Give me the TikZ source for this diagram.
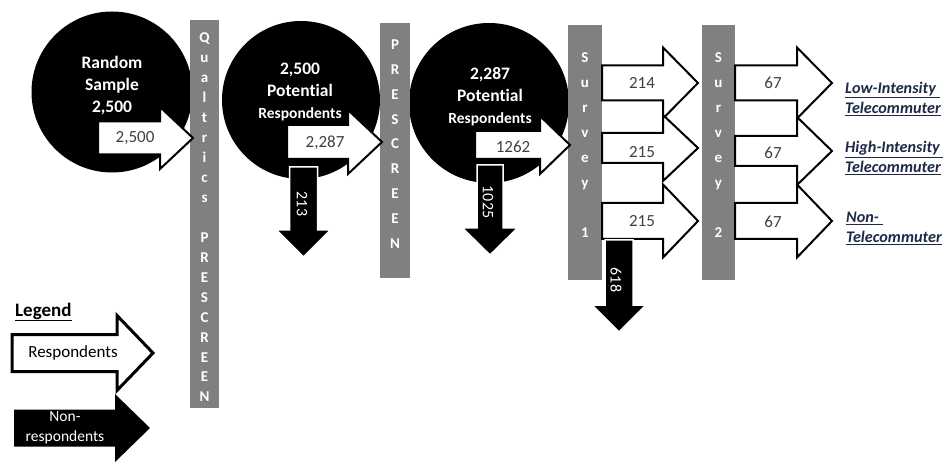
\documentclass[tikz,border=0pt]{standalone}
\usepackage{fontspec}
\setmainfont{Carlito}[Ligatures={NoCommon}]
\definecolor{bargray}{HTML}{808080}
\definecolor{numgray}{HTML}{404040}
\definecolor{lblblue}{HTML}{1C2A48}
% right arrow: style, x0, xhead, xtip, ycentre, half body, half head
\newcommand\RArr[7]{\draw[#1] (#2,#5-#6) -- (#3,#5-#6) -- (#3,#5-#7) -- (#4,#5) -- (#3,#5+#7) -- (#3,#5+#6) -- (#2,#5+#6) -- cycle;}
% down arrow: style, xc, y0, yhead, ytip, half body, half head
\newcommand\DArr[7]{\draw[#1] (#2-#6,#3) -- (#2+#6,#3) -- (#2+#6,#4) -- (#2+#7,#4) -- (#2,#5) -- (#2-#7,#4) -- (#2-#6,#4) -- cycle;}
\tikzset{
  disc/.style={circle, fill=black, inner sep=0pt},
  bar/.style={fill=bargray, draw=none},
  resp/.style={fill=white, draw=black, line width=2pt, line join=miter},
  legresp/.style={fill=white, draw=black, line width=3pt, line join=miter},
  nonresp/.style={fill=black, draw=white, line width=1.5pt, line join=miter},
  legnon/.style={fill=black, draw=none},
  circtxt/.style={text=white, font=\bfseries\fontsize{17.5}{22}\selectfont, align=center, inner sep=0pt},
  num/.style={text=numgray, font=\fontsize{17}{18}\selectfont, inner sep=0pt},
  downlbl/.style={text=white, font=\fontsize{16}{18}\selectfont, rotate=-90, inner sep=0pt},
  barltr/.style={text=white, font=\bfseries\fontsize{15}{16}\selectfont, anchor=base, inner sep=0pt},
  outcome/.style={text=lblblue, font=\bfseries\itshape\fontsize{16.2}{20}\selectfont, align=left, anchor=west, inner sep=0pt},
}
\begin{document}
\begin{tikzpicture}[x=1pt, y=-1pt]
\useasboundingbox (0,0) rectangle (948,465);
% circles
\node[disc, minimum size=161pt] (c1) at (112,92) {};
\node[disc, minimum size=158pt] (c2) at (301,100) {};
\node[disc, minimum size=160pt] (c3) at (489,103) {};
\node[circtxt] (c1t) at (112,86) {Random\\Sample\\2,500};
\node[circtxt] (c2t) at (300,92) {2,500\\Potential\\{\fontsize{15.5}{20}\selectfont Respondents}};
\node[circtxt] (c3t) at (490,97) {2,287\\Potential\\{\fontsize{15.5}{20}\selectfont Respondents}};
% bars
\fill[bar] (190,20) rectangle (219,408);
\fill[bar] (380,23) rectangle (410,278);
\fill[bar] (568,25) rectangle (602,280);
\fill[bar] (702,25) rectangle (735,280);
\foreach \ch [count=\i] in {Q,u,a,l,t,r,i,c,s,{},P,R,E,S,C,R,E,E,N}
  \node[barltr] (qb\i) at (204.5, 43+19.94*\i-19.94) {\ch};
\foreach \ch [count=\i] in {P,R,E,S,C,R,E,E,N}
  \node[barltr] (pb\i) at (395, 50+24.75*\i-24.75) {\ch};
\foreach \ch [count=\i] in {S,u,r,v,e,y,{},1}
  \node[barltr] (sa\i) at (585, 63+25*\i-25) {\ch};
\foreach \ch [count=\i] in {S,u,r,v,e,y,{},2}
  \node[barltr] (sb\i) at (718.5, 63+25*\i-25) {\ch};
% respondent arrows
\RArr{resp}{98}{160}{193}{138}{16.5}{31}
\node[num] (n1) at (135,138) {2,500};
\RArr{resp}{287}{348}{382}{142}{17}{32}
\node[num] (n2) at (325,143) {2,287};
\RArr{resp}{475}{540}{570}{145}{14}{29}
\node[num] (n3) at (513,147) {1262};
\RArr{resp}{602}{663}{698}{83}{17.5}{35.5}
\node[num] (n4) at (642,83) {214};
\RArr{resp}{602}{663}{698}{148}{15}{33}
\node[num] (n5) at (642,152) {215};
\RArr{resp}{602}{663}{698}{221}{18}{36.5}
\node[num] (n6) at (642,221) {215};
\RArr{resp}{735}{797}{832}{83}{17.5}{35.5}
\node[num] (n7) at (773,83) {67};
\RArr{resp}{735}{797}{832}{151}{15}{34}
\node[num] (n8) at (773,153) {67};
\RArr{resp}{735}{797}{832}{221}{18}{36.5}
\node[num] (n9) at (773,222) {67};
% non-respondent arrows
\DArr{nonresp}{303.5}{167}{230}{257}{14}{27}
\node[downlbl] (d1) at (302,204) {213};
\DArr{nonresp}{490}{165}{228}{255}{13}{27.5}
\node[downlbl] (d2) at (488,202) {1025};
\DArr{nonresp}{619}{240}{305}{332}{14}{27}
\node[downlbl] (d3) at (616,280) {618};
% outcomes
\node[outcome] (o1) at (845,99) {\underline{Low-Intensity\ }\\\underline{Telecommuter}};
\node[outcome] (o2) at (845,158) {\underline{High-Intensity\ }\\\underline{Telecommuter}};
\node[outcome] (o3) at (846,228) {\underline{Non-\ }\\\underline{Telecommuter}};
% legend
\node[anchor=west, inner sep=0pt, font=\bfseries\fontsize{19}{20}\selectfont] (lg) at (15,312) {\underline{Legend}};
\RArr{legresp}{12}{117}{153}{353}{18.5}{37.5}
\node[inner sep=0pt, font=\fontsize{17}{18}\selectfont] (lr) at (73,353) {Respondents};
\RArr{legnon}{14}{115}{150}{428}{18.5}{34}
\node[inner sep=0pt, text=white, align=center, font=\fontsize{15.5}{20}\selectfont] (ln) at (65,428) {Non-\\respondents};
\end{tikzpicture}
\end{document}
